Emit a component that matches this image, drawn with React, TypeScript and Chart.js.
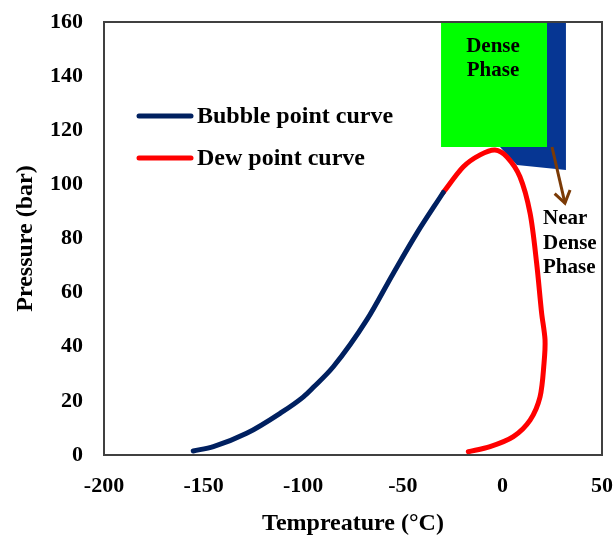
import React, { useEffect, useRef } from "react";
import { Chart, registerables } from "chart.js";

Chart.register(...registerables);

// Bubble point curve (Temperature °C, Pressure bar)
const bubbleT = [-155.2, -145.1, -128.4, -111.6, -99.9, -94.9, -84.9, -68.1, -54.8, -43.0, -29.7];
const bubbleP = [1.5, 3.1, 8.0, 15.4, 21.5, 25.0, 32.6, 49.9, 67.1, 81.9, 97.0];

// Dew point curve
const dewT = [-29.7, -19.6, -11.2, -3.7, 2.2, 8.8, 13.9, 17.2, 19.7, 21.4, 20.9, 18.9, 13.9, 5.5, -6.2, -17.1];
const dewP = [97.0, 106.5, 110.9, 112.7, 110.2, 102.8, 89.3, 70.8, 52.4, 42.5, 33.9, 21.5, 12.9, 6.8, 3.1, 1.2];

// Dense phase region (lower boundary, filled to top of axis)
const denseT = [-30.8, 22.4];
const denseP = [113.8, 113.8];

// Near dense phase region (lower boundary, filled to top of axis)
const nearDenseT = [-1.2, 7.3, 31.9];
const nearDenseP = [113.8, 107.2, 105.3];

// Axes
const xTicks = [-200, -150, -100, -50, 0, 50];
const yTicks = [0, 20, 40, 60, 80, 100, 120, 140, 160];

const seriesNames = ["Bubble point curve", "Dew point curve"];

const FONT = '"Liberation Serif", "Times New Roman", serif';
const NAVY = "#002060";
const RED = "#FF0000";
const GREEN = "#00FF00";
const BLUE = "#063693";
const BROWN = "#7B3A06";

const zip = (xs: number[], ys: number[]) => xs.map((x, i) => ({ x, y: ys[i] }));

const overlayPlugin = {
  id: "overlay",
  afterDraw(chart: any) {
    const { ctx, chartArea, scales } = chart;
    const xs = scales.x;
    const ys = scales.y;
    ctx.save();
    // frame
    ctx.strokeStyle = "#404040";
    ctx.lineWidth = 2;
    ctx.strokeRect(chartArea.left, chartArea.top, chartArea.right - chartArea.left, chartArea.bottom - chartArea.top);

    // legend
    const colors = [NAVY, RED];
    ctx.lineCap = "round";
    ctx.font = `bold 24px ${FONT}`;
    ctx.textBaseline = "middle";
    ctx.textAlign = "left";
    seriesNames.forEach((name, i) => {
      const y = chartArea.top + 94 + i * 42;
      ctx.strokeStyle = colors[i];
      ctx.lineWidth = 5;
      ctx.beginPath();
      ctx.moveTo(chartArea.left + 35, y);
      ctx.lineTo(chartArea.left + 87, y);
      ctx.stroke();
      ctx.fillStyle = "#000";
      ctx.fillText(name, chartArea.left + 93, y + 1);
    });

    // Dense Phase label
    ctx.font = `bold 21px ${FONT}`;
    ctx.textAlign = "center";
    ctx.fillStyle = "#000";
    const dx = xs.getPixelForValue(-4.7);
    ctx.fillText("Dense", dx, ys.getPixelForValue(150.8));
    ctx.fillText("Phase", dx, ys.getPixelForValue(141.9));

    // Near Dense Phase label
    ctx.textAlign = "left";
    const nx = xs.getPixelForValue(20.4);
    ctx.fillText("Near", nx, ys.getPixelForValue(87.2));
    ctx.fillText("Dense", nx, ys.getPixelForValue(78.0));
    ctx.fillText("Phase", nx, ys.getPixelForValue(69.3));

    // arrow
    const x0 = xs.getPixelForValue(24.9);
    const y0 = ys.getPixelForValue(113.8);
    const x1 = xs.getPixelForValue(31.4);
    const y1 = ys.getPixelForValue(93.1);
    ctx.strokeStyle = BROWN;
    ctx.lineWidth = 3;
    ctx.lineCap = "butt";
    ctx.beginPath();
    ctx.moveTo(x0, y0);
    ctx.lineTo(x1, y1);
    ctx.stroke();
    const ang = Math.atan2(y1 - y0, x1 - x0);
    const hl = 14;
    ctx.beginPath();
    ctx.moveTo(x1 + hl * Math.cos(ang + Math.PI - 0.6), y1 + hl * Math.sin(ang + Math.PI - 0.6));
    ctx.lineTo(x1, y1);
    ctx.lineTo(x1 + hl * Math.cos(ang + Math.PI + 0.6), y1 + hl * Math.sin(ang + Math.PI + 0.6));
    ctx.stroke();
    ctx.restore();
  },
};

export default function App() {
  const ref = useRef<HTMLCanvasElement>(null);
  useEffect(() => {
    if (!ref.current) return;
    const chart = new Chart(ref.current, {
      type: "scatter",
      data: {
        datasets: [
          {
            label: seriesNames[0],
            data: zip(bubbleT, bubbleP),
            showLine: true,
            borderColor: NAVY,
            borderWidth: 5,
            borderCapStyle: "round",
            pointRadius: 0,
            cubicInterpolationMode: "monotone",
          },
          {
            label: seriesNames[1],
            data: zip(dewT, dewP),
            showLine: true,
            borderColor: RED,
            borderWidth: 5,
            borderCapStyle: "round",
            pointRadius: 0,
            tension: 0.3,
          },
          {
            label: "Dense Phase",
            data: zip(denseT, denseP),
            showLine: true,
            borderWidth: 0,
            borderColor: "rgba(0,0,0,0)",
            backgroundColor: GREEN,
            fill: "end",
            pointRadius: 0,
          },
          {
            label: "Near Dense Phase",
            data: zip(nearDenseT, nearDenseP),
            showLine: true,
            borderWidth: 0,
            borderColor: "rgba(0,0,0,0)",
            backgroundColor: BLUE,
            fill: "end",
            pointRadius: 0,
          },
        ],
      },
      options: {
        responsive: false,
        animation: false,
        layout: { padding: { top: 22, right: 14, bottom: 0, left: 0 } },
        plugins: {
          legend: { display: false },
          tooltip: { enabled: false },
        },
        scales: {
          x: {
            type: "linear",
            min: -200,
            max: 50,
            afterBuildTicks: (s: any) => {
              s.ticks = xTicks.map((v) => ({ value: v }));
            },
            afterFit: (s: any) => {
              s.height = 84;
            },
            grid: { display: false, drawTicks: true, tickLength: 18 },
            border: { display: false },
            ticks: {
              color: "#000",
              padding: 0,
              maxRotation: 0,
              font: { family: FONT, size: 22, weight: "bold" },
            },
            title: {
              display: true,
              text: "Tempreature (°C)",
              color: "#000",
              padding: { top: 0, bottom: 1 },
              font: { family: FONT, size: 24, weight: "bold" },
            },
          },
          y: {
            type: "linear",
            min: 0,
            max: 160,
            afterBuildTicks: (s: any) => {
              s.ticks = yTicks.map((v) => ({ value: v }));
            },
            afterFit: (s: any) => {
              s.width = 104;
            },
            grid: { display: false, drawTicks: true, tickLength: 21 },
            border: { display: false },
            ticks: {
              color: "#000",
              padding: 0,
              font: { family: FONT, size: 22, weight: "bold" },
            },
            title: {
              display: true,
              text: "Pressure (bar)",
              color: "#000",
              padding: { top: 11, bottom: 0 },
              font: { family: FONT, size: 24, weight: "bold" },
            },
          },
        },
      } as any,
      plugins: [overlayPlugin],
    });
    return () => chart.destroy();
  }, []);
  return (
    <div style={{ position: "absolute", left: 0, top: 0, width: 616, height: 539, background: "#fff" }}>
      <canvas ref={ref} width={616} height={539} style={{ display: "block" }} />
    </div>
  );
}
